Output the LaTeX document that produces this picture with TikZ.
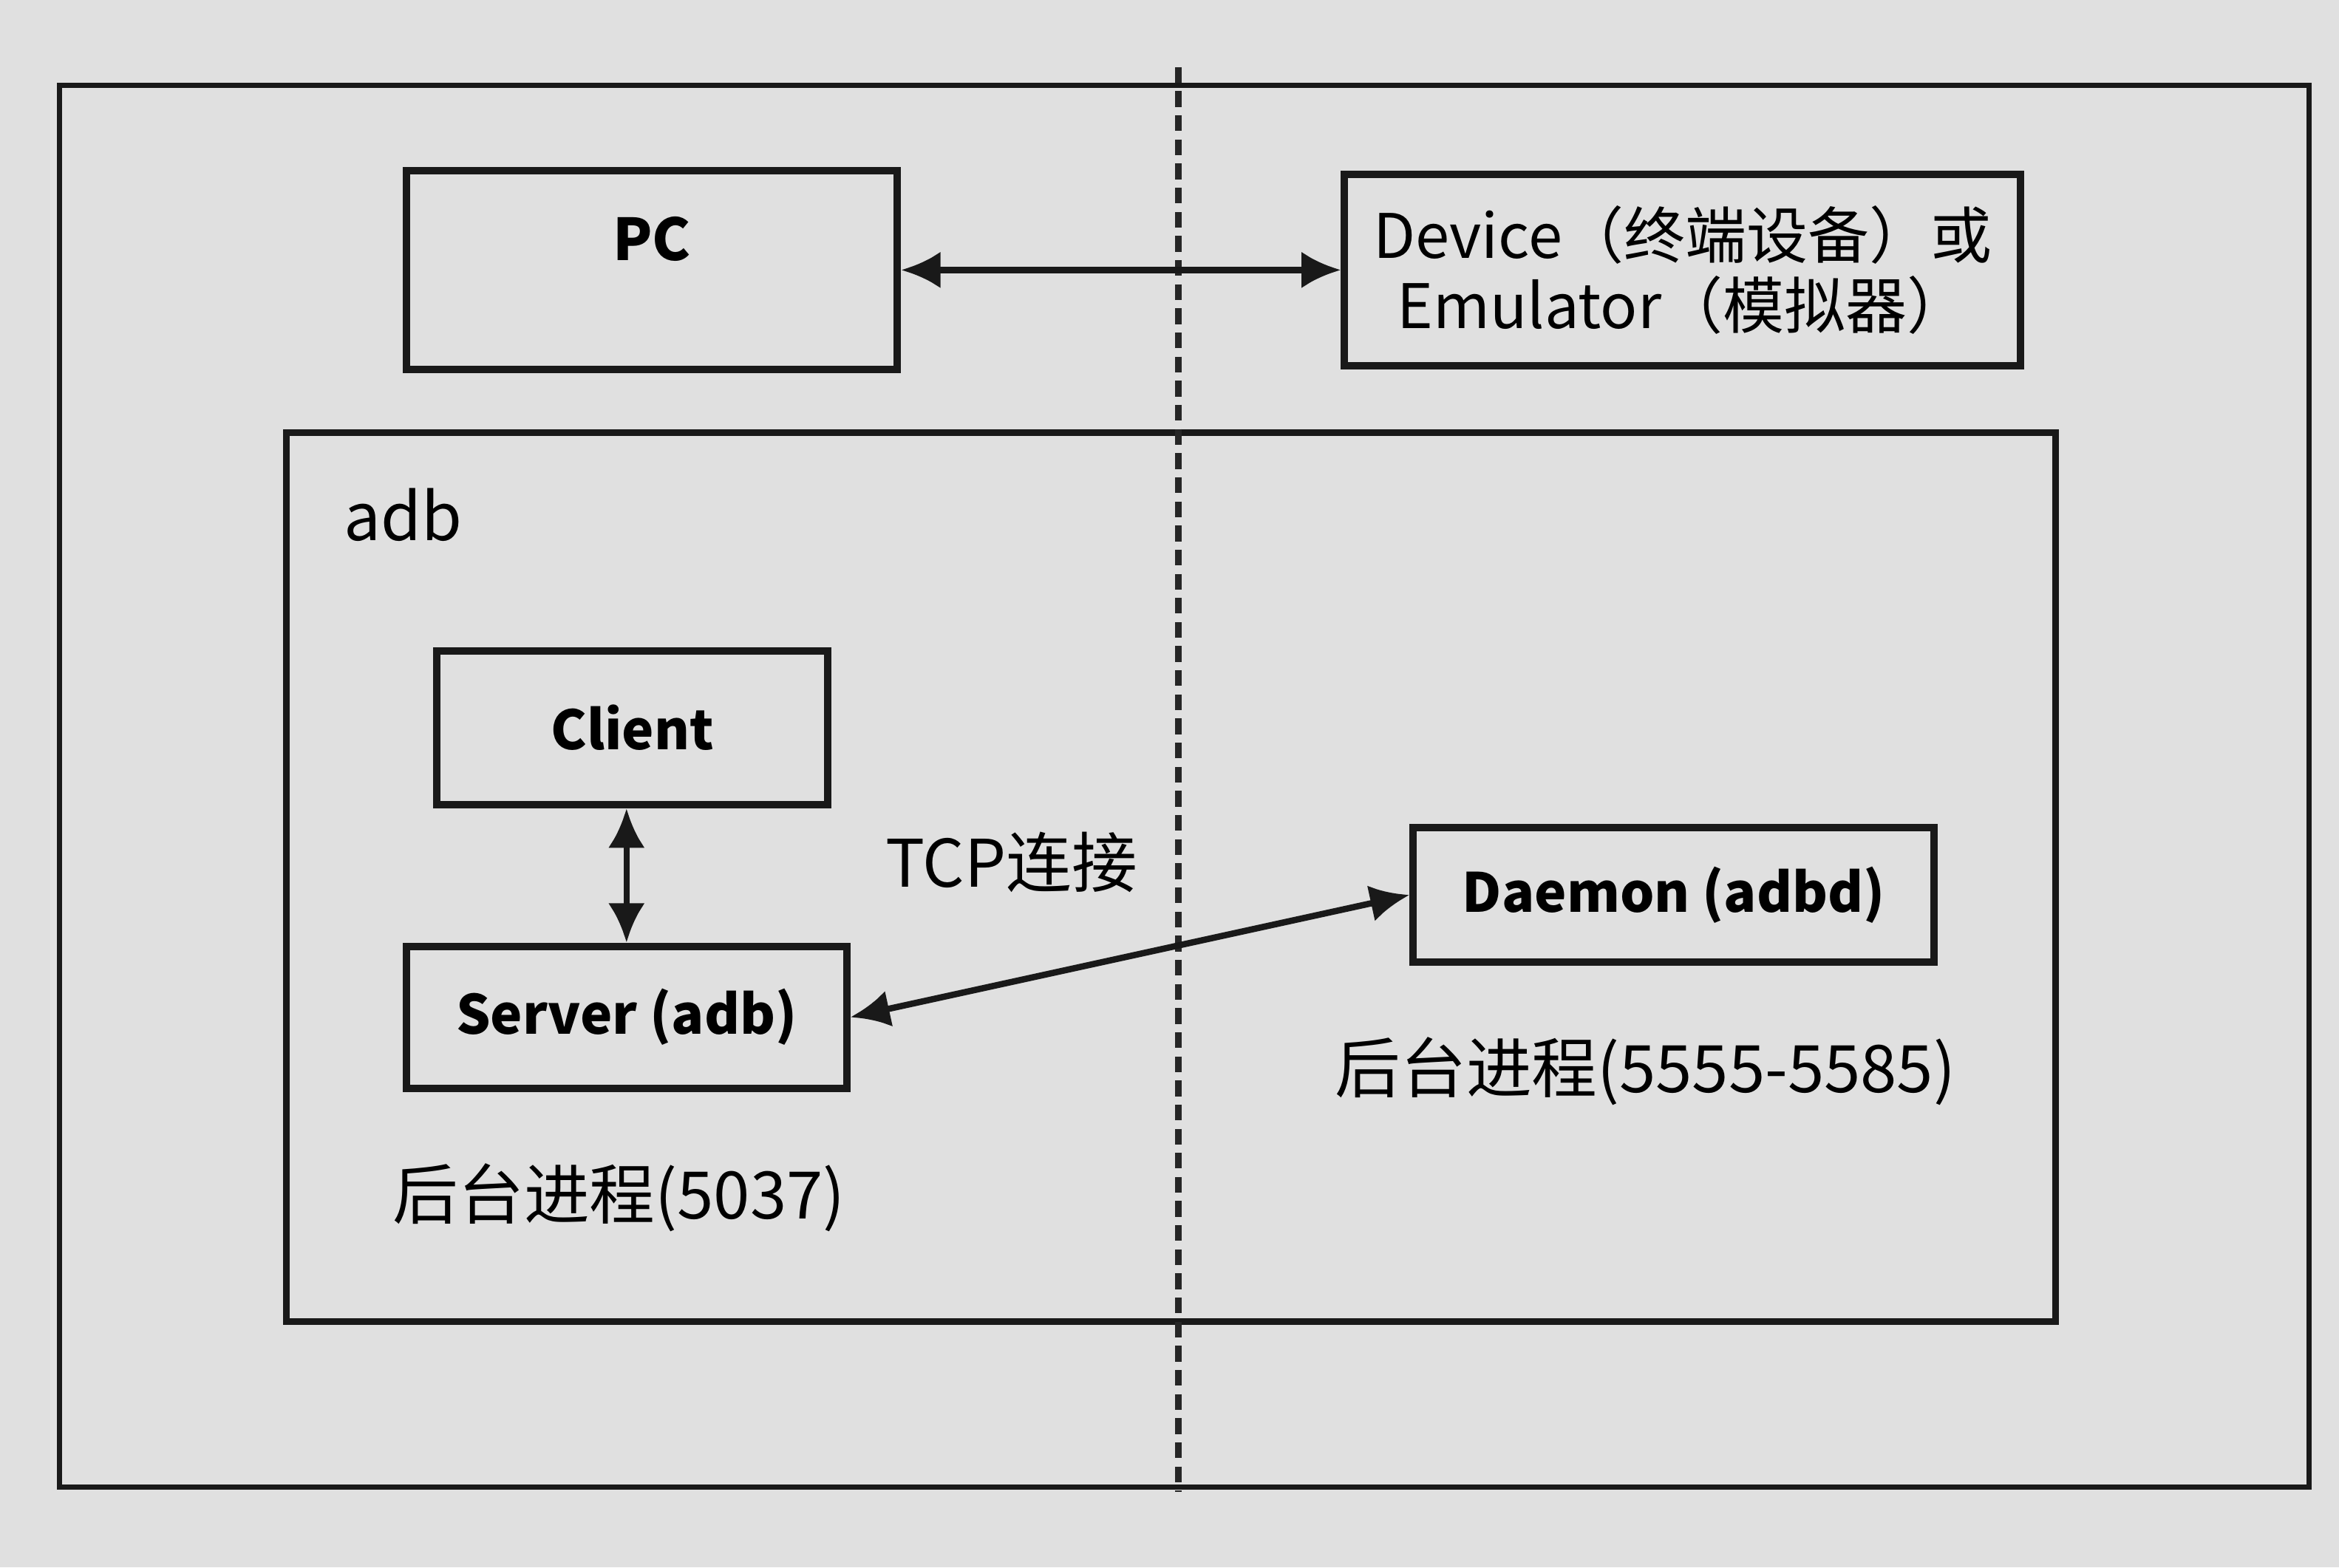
\documentclass[tikz,border=0pt]{standalone}
\usepackage{fontspec}
\setmainfont{Noto Sans CJK SC}
\usetikzlibrary{arrows.meta,positioning}

\tikzset{
  box/.style={draw=black!90,line width=1.4pt,inner sep=0pt,align=center},
  boxtext/.style={font=\bfseries\fontsize{10.3}{12}\selectfont},
  plain/.style={font=\fontsize{12.5}{14}\selectfont,inner sep=0pt},
  link/.style={line width=1.2pt,draw=black!90,{Latex[length=7.5pt,width=7pt]}-{Latex[length=7.5pt,width=7pt]}}
}

\begin{document}
\begin{tikzpicture}[x=0.01cm,y=-0.01cm]
\useasboundingbox (0,0) rectangle (1568,1051);
\fill[black!12] (0,0) rectangle (1568,1051);

% frames
\draw[line width=1pt,black!90] (40,57) rectangle (1548,997);
\draw[line width=1.2pt,black!90] (192,290) rectangle (1378,886);
\coordinate (sepTop) at (790,45);
\coordinate (sepBot) at (790,1000);
\draw[line width=1.3pt,black!85,dash pattern=on 3pt off 1.6pt] (sepTop) -- (sepBot);

% top row
\node[box,minimum width=3.29cm,minimum height=1.33cm] (pc) at (437,181) {};
\node[boxtext,font=\bfseries\fontsize{11}{12}\selectfont] (pclabel) at (437,160) {PC};
\node[box,minimum width=4.53cm,minimum height=1.28cm,font=\fontsize{11.7}{13.4}\selectfont] (device) at (1128,181)
  {Device（终端设备）或\\Emulator（模拟器）};
\draw[link] (pc.east) -- (device.west);

% adb parts
\node[plain,anchor=west] (adblabel) at (230,345) {adb};
\node[box,boxtext,minimum width=2.62cm,minimum height=1.03cm] (client) at (424,488) {Client};
\node[box,boxtext,minimum width=2.95cm,minimum height=0.95cm] (server) at (420,682) {Server (adb)};
\node[box,boxtext,minimum width=3.49cm,minimum height=0.90cm] (daemon) at (1122,600) {Daemon (adbd)};
\draw[link] (client.south -| server.north) -- (server.north);
\draw[link] (server.east) -- (daemon.west);

% labels
\node[plain] (tcp) at (678,578) {TCP连接};
\node[plain] (hostport) at (415,803) {后台进程(5037)};
\node[plain] (devport) at (1103,718) {后台进程(5555-5585)};
\end{tikzpicture}
\end{document}
